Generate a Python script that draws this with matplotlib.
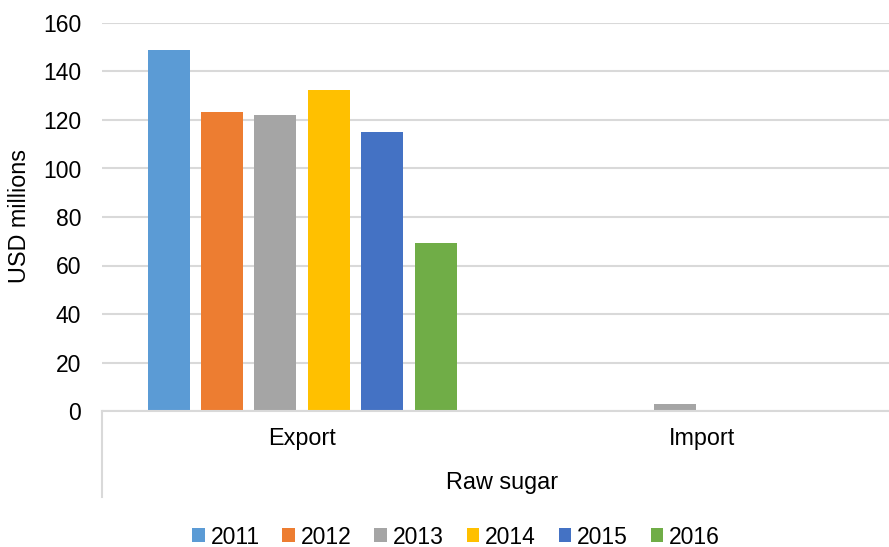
import matplotlib
matplotlib.use("Agg")
import matplotlib.pyplot as plt
from matplotlib.lines import Line2D
from matplotlib.patches import Patch
import numpy as np

plt.rcParams['font.family'] = ['Liberation Sans', 'DejaVu Sans']

categories = ["Export", "Import"]
group_label = "Raw sugar"
years = ["2011", "2012", "2013", "2014", "2015", "2016"]
export_vals = [148.9, 123.5, 122.1, 132.5, 115.0, 69.3]
import_vals = [0.05, 0.3, 2.8, 0.1, 0.1, 0.3]
colors = ["#5B9BD5", "#ED7D31", "#A5A5A5", "#FFC000", "#4472C4", "#70AD47"]
yticks = [0, 20, 40, 60, 80, 100, 120, 140, 160]

FS = 16.8
W, H = 889, 547
fig = plt.figure(figsize=(W / 100, H / 100), dpi=100)
left, right, bottom, top = 102, 902, 411, 23
ax = fig.add_axes([left / W, 1 - bottom / H, (right - left) / W, (bottom - top) / H])

x = np.arange(len(categories))
step = 0.1335
bw = 0.105
for i, (yr, c) in enumerate(zip(years, colors)):
    vals = [export_vals[i], import_vals[i]]
    ax.bar(x + (i - 2.5) * step, vals, width=bw, color=c, label=yr, zorder=3)

ax.set_xlim(-0.5, 1.5)
ax.set_ylim(0, 160)
ax.set_yticks(yticks)
ax.set_yticklabels([str(v) for v in yticks], fontsize=16.5)
ax.tick_params(axis='y', length=0, pad=15)
ax.tick_params(axis='x', length=0)
ax.set_xticks([])
ax.grid(axis='y', color='#D9D9D9', linewidth=1.5, zorder=0)
for s in ['top', 'right', 'left']:
    ax.spines[s].set_visible(False)
ax.spines['bottom'].set_color('#D9D9D9')
ax.spines['bottom'].set_linewidth(1.5)
ax.spines['bottom'].set_zorder(4)

# category labels
for xi, cat in zip(x, categories):
    disp_x = ax.transData.transform((xi, 0))[0]
    fig.text(disp_x / W, 1 - 439 / H, cat, fontsize=FS, ha='center', va='center')
fig.text(((left + right) / 2) / W, 1 - 483 / H, group_label, fontsize=FS, ha='center', va='center')

# multi-level axis line
fig.add_artist(Line2D([left / W, left / W], [1 - 411 / H, 1 - 497 / H], color='#D9D9D9', linewidth=1.5))

fig.text(20 / W, 1 - 216 / H, "USD millions", rotation=90, fontsize=FS, ha='center', va='center')

handles = [Patch(facecolor=c, label=y) for y, c in zip(years, colors)]
fig.legend(handles=handles, loc='center', bbox_to_anchor=(456 / W, 1 - 537 / H), ncol=6,
           frameon=False, fontsize=16.5, handlelength=0.55, handleheight=0.55,
           handletextpad=0.25, columnspacing=1.0)

fig.savefig("out.png", dpi=100)
